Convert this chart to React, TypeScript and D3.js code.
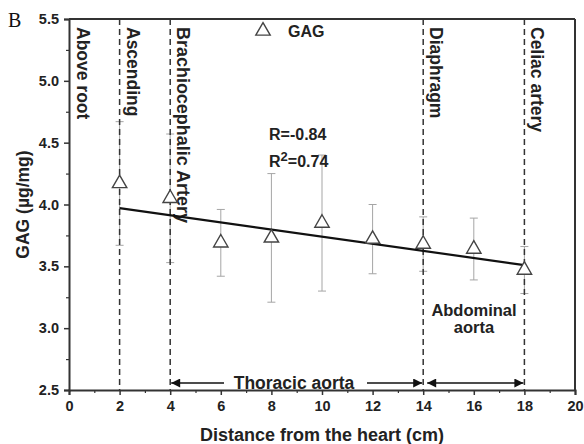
import React, { useEffect, useRef } from "react";
import * as d3 from "d3";

const positions = [2, 4, 6, 8, 10, 12, 14, 16, 18];
const gagMean = [4.17, 4.05, 3.69, 3.73, 3.85, 3.72, 3.68, 3.64, 3.47];
const gagErr = [0.5, 0.52, 0.27, 0.52, 0.55, 0.28, 0.22, 0.25, 0.19];
const fitX = [2, 18];
const fitY = [3.97, 3.51];
const landmarkX = [2, 4, 14, 18];
const landmarkLabels = ["Ascending", "Brachiocephalic Artery", "Diaphragm", "Celiac artery"];
const xTicks = [0, 2, 4, 6, 8, 10, 12, 14, 16, 18, 20];
const yTicks = [2.5, 3.0, 3.5, 4.0, 4.5, 5.0, 5.5];

const W = 584;
const H = 444;
const FONT = "'Liberation Sans', Arial, Helvetica, sans-serif";

export default function App() {
  const ref = useRef<SVGSVGElement>(null);

  useEffect(() => {
    const svg = d3.select(ref.current);
    svg.selectAll("*").remove();

    const x = d3.scaleLinear().domain([0, 20]).range([69, 575]);
    const y = d3.scaleLinear().domain([2.5, 5.5]).range([390, 19]);
    const ink = "#222";
    const axisCol = "#333";

    // Frame (top and right)
    svg.append("line").attr("x1", x(0)).attr("x2", x(20)).attr("y1", y(5.5)).attr("y2", y(5.5))
      .attr("stroke", axisCol).attr("stroke-width", 2);
    svg.append("line").attr("x1", x(20)).attr("x2", x(20)).attr("y1", y(5.5)).attr("y2", y(2.5))
      .attr("stroke", axisCol).attr("stroke-width", 2);

    // Error bars (below dashed lines)
    const cap = 4;
    const eb = svg.append("g").attr("stroke", "#a5a5a5").attr("stroke-width", 1);
    positions.forEach((p, i) => {
      const top = y(gagMean[i] + gagErr[i]);
      const bot = y(gagMean[i] - gagErr[i]);
      eb.append("line").attr("x1", x(p)).attr("x2", x(p)).attr("y1", top).attr("y2", bot);
      eb.append("line").attr("x1", x(p) - cap).attr("x2", x(p) + cap).attr("y1", top).attr("y2", top);
      eb.append("line").attr("x1", x(p) - cap).attr("x2", x(p) + cap).attr("y1", bot).attr("y2", bot);
    });

    // X axis
    const gx = svg.append("g").attr("transform", `translate(0,${y(2.5)})`)
      .call(d3.axisBottom(x).tickValues(xTicks).tickFormat(d3.format("d")).tickSize(5).tickPadding(6));
    gx.select(".domain").attr("stroke", axisCol).attr("stroke-width", 2);
    gx.selectAll(".tick line").attr("stroke", axisCol).attr("stroke-width", 1.5);
    gx.selectAll(".tick text").attr("font-family", FONT).attr("font-weight", "bold")
      .attr("font-size", 14.5).attr("fill", ink);
    const gxm = svg.append("g").attr("transform", `translate(0,${y(2.5)})`)
      .call(d3.axisBottom(x).tickValues(d3.range(1, 20, 2)).tickFormat(() => "").tickSize(3));
    gxm.select(".domain").remove();
    gxm.selectAll(".tick line").attr("stroke", axisCol).attr("stroke-width", 1.2);

    // Y axis
    const gy = svg.append("g").attr("transform", `translate(${x(0)},0)`)
      .call(d3.axisLeft(y).tickValues(yTicks).tickFormat(d3.format(".1f")).tickSize(5).tickPadding(5));
    gy.select(".domain").attr("stroke", axisCol).attr("stroke-width", 2);
    gy.selectAll(".tick line").attr("stroke", axisCol).attr("stroke-width", 1.5);
    gy.selectAll(".tick text").attr("font-family", FONT).attr("font-weight", "bold")
      .attr("font-size", 14.5).attr("fill", ink);
    const gym = svg.append("g").attr("transform", `translate(${x(0)},0)`)
      .call(d3.axisLeft(y).tickValues(d3.range(2.75, 5.5, 0.5)).tickFormat(() => "").tickSize(3));
    gym.select(".domain").remove();
    gym.selectAll(".tick line").attr("stroke", axisCol).attr("stroke-width", 1.2);

    // Axis titles
    svg.append("text").attr("x", (x(0) + x(20)) / 2).attr("y", 441).attr("text-anchor", "middle")
      .attr("font-family", FONT).attr("font-weight", "bold").attr("font-size", 18).attr("fill", ink)
      .text("Distance from the heart (cm)");
    svg.append("text").attr("transform", `translate(29,${(y(2.5) + y(5.5)) / 2}) rotate(-90)`)
      .attr("text-anchor", "middle").attr("font-family", FONT).attr("font-weight", "bold")
      .attr("font-size", 17.5).attr("fill", ink).text("GAG (\u00b5g/mg)");

    // Panel letter
    svg.append("text").attr("x", 8).attr("y", 27).attr("font-family", "'Liberation Serif', 'Times New Roman', serif")
      .attr("font-size", 20).attr("fill", "#111").text("B");

    // Dashed landmark lines
    svg.selectAll(".dash").data(landmarkX).enter().append("line")
      .attr("x1", d => x(d)).attr("x2", d => x(d)).attr("y1", y(5.5)).attr("y2", y(2.5))
      .attr("stroke", "#333").attr("stroke-width", 1.5).attr("stroke-dasharray", "6,4");

    // Vertical labels
    const vLabels = ["Above root", ...landmarkLabels];
    const vX = [0, ...landmarkX];
    svg.selectAll(".vlab").data(vLabels).enter().append("text")
      .attr("transform", (d, i) => `translate(${x(vX[i]) + (i === 0 ? 8 : 7)},27) rotate(90)`)
      .attr("font-family", FONT).attr("font-weight", "bold").attr("font-size", 17.5).attr("fill", ink)
      .each(function (d) {
        if (d === "Brachiocephalic Artery") {
          d3.select(this).attr("textLength", 196).attr("lengthAdjust", "spacingAndGlyphs");
        }
      })
      .text(d => d);

    // Fit line
    const line = d3.line<number>().x((d, i) => x(fitX[i])).y(d => y(d));
    svg.append("path").attr("d", line(fitY) as string).attr("fill", "none")
      .attr("stroke", "#111").attr("stroke-width", 2.2);

    // Triangles
    const tri = d3.symbol().type(d3.symbolTriangle).size(90);
    svg.selectAll(".pt").data(positions).enter().append("path")
      .attr("d", tri() as string)
      .attr("transform", (d, i) => `translate(${x(d)},${y(gagMean[i])})`)
      .attr("fill", "white").attr("stroke", "#444").attr("stroke-width", 1.4);

    // Legend
    svg.append("path").attr("d", tri() as string).attr("transform", "translate(263,31)")
      .attr("fill", "white").attr("stroke", "#444").attr("stroke-width", 1.4);
    svg.append("text").attr("x", 288).attr("y", 37).attr("font-family", FONT).attr("font-weight", "bold")
      .attr("font-size", 16).attr("fill", ink).text("GAG");

    // R annotations
    svg.append("text").attr("x", 269).attr("y", 140).attr("font-family", FONT).attr("font-weight", "bold")
      .attr("font-size", 16).attr("fill", ink).text("R=-0.84");
    const r2 = svg.append("text").attr("x", 269).attr("y", 167).attr("font-family", FONT)
      .attr("font-weight", "bold").attr("font-size", 16).attr("fill", ink);
    r2.append("tspan").text("R");
    r2.append("tspan").attr("dy", -6).attr("font-size", 13).text("2");
    r2.append("tspan").attr("dy", 6).text("=0.74");

    // Region arrows
    const defs = svg.append("defs");
    const mk = (id: string, orient: string) =>
      defs.append("marker").attr("id", id).attr("viewBox", "0 0 10 10").attr("refX", 10).attr("refY", 5)
        .attr("markerWidth", 11).attr("markerHeight", 9).attr("markerUnits", "userSpaceOnUse")
        .attr("orient", orient).append("path").attr("d", "M0,0 L10,5 L0,10 Z").attr("fill", "#111");
    mk("arr", "auto");
    mk("arrs", "auto-start-reverse");
    const ay = 383;
    svg.append("line").attr("x1", 224).attr("x2", x(4) + 1).attr("y1", ay).attr("y2", ay)
      .attr("stroke", "#111").attr("stroke-width", 1.5).attr("marker-end", "url(#arr)");
    svg.append("line").attr("x1", 367).attr("x2", x(14) - 1).attr("y1", ay).attr("y2", ay)
      .attr("stroke", "#111").attr("stroke-width", 1.5).attr("marker-end", "url(#arr)");
    svg.append("line").attr("x1", x(14) + 4).attr("x2", x(18) - 1).attr("y1", ay).attr("y2", ay)
      .attr("stroke", "#111").attr("stroke-width", 1.5)
      .attr("marker-start", "url(#arrs)").attr("marker-end", "url(#arr)");
    svg.append("text").attr("x", 294).attr("y", 389).attr("text-anchor", "middle")
      .attr("font-family", FONT).attr("font-weight", "bold").attr("font-size", 17.5).attr("fill", ink)
      .text("Thoracic aorta");

    const ab = svg.append("text").attr("text-anchor", "middle").attr("font-family", FONT)
      .attr("font-weight", "bold").attr("font-size", 16.5).attr("fill", ink);
    ab.append("tspan").attr("x", 474).attr("y", 316).text("Abdominal");
    ab.append("tspan").attr("x", 474).attr("y", 333).text("aorta");
  }, []);

  return (
    <svg ref={ref} width={W} height={H}
      style={{ position: "absolute", left: 0, top: 0, background: "white" }} />
  );
}
